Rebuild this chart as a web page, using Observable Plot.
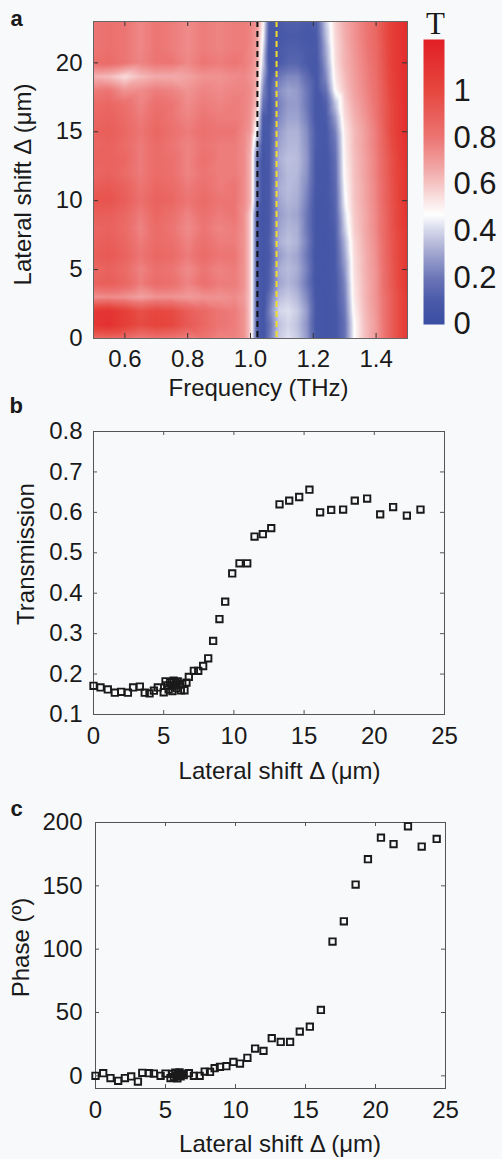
<!DOCTYPE html>
<html><head><meta charset="utf-8">
<script src="https://cdn.jsdelivr.net/npm/d3@7"></script>
<script src="https://cdn.jsdelivr.net/npm/@observablehq/plot@0.6"></script>
<style>
html,body{margin:0;padding:0;background:#f8f9fb;}
#page{position:relative;width:502px;height:1159px;overflow:hidden;}
#page > div{position:absolute;}
</style></head><body><div id="page">
<div id="pa" style="left:0;top:0"></div>
<div id="cb" style="left:415px;top:0"></div>
<div id="pb" style="left:0;top:380px"></div>
<div id="pc" style="left:0;top:790px"></div>
</div>
<script>
// ---------- Panel a: transmission map T(frequency, lateral shift) ----------
const freqs = [0.50,0.55,0.60,0.65,0.70,0.75,0.80,0.85,0.90,0.95,0.98,1.00,1.02,1.04,1.06,1.09,1.12,1.15,1.18,1.21,1.24,1.27,1.30,1.33,1.36,1.40,1.45,1.50];
const shifts = [0,1,2,3,4,5,6,7,8,9,10,11,12,13,14,15,16,17,18,19,20,21,22,23];
const transmissionMap = [
 [0.85,0.86,0.84,0.78,0.82,0.80,0.76,0.80,0.76,0.76, 0.72,0.58,0.12,0.06, 0.20,0.38,0.42,0.38,0.28,0.08, 0.06,0.08,0.18,0.47,0.60,0.70,0.90,1.08],
 [1.10,1.12,1.05,0.98,1.02,1.00,0.92,0.86,0.80,0.78, 0.72,0.58,0.12,0.06, 0.18,0.36,0.40,0.36,0.26,0.07, 0.06,0.08,0.18,0.47,0.60,0.70,0.90,1.08],
 [1.08,1.10,1.04,0.96,1.00,0.98,0.90,0.85,0.80,0.78, 0.72,0.58,0.12,0.06, 0.22,0.40,0.42,0.38,0.28,0.08, 0.06,0.08,0.20,0.50,0.61,0.71,0.90,1.08],
 [0.72,0.74,0.72,0.68,0.72,0.72,0.70,0.72,0.72,0.74, 0.70,0.58,0.12,0.06, 0.18,0.35,0.38,0.34,0.24,0.07, 0.06,0.09,0.22,0.52,0.62,0.72,0.90,1.08],
 [0.88,0.90,0.86,0.78,0.84,0.82,0.76,0.82,0.78,0.78, 0.72,0.58,0.12,0.06, 0.12,0.30,0.34,0.30,0.20,0.06, 0.06,0.09,0.24,0.53,0.62,0.72,0.92,1.10],
 [0.86,0.88,0.84,0.76,0.82,0.80,0.74,0.80,0.76,0.78, 0.72,0.58,0.12,0.06, 0.12,0.32,0.35,0.32,0.22,0.07, 0.06,0.10,0.27,0.54,0.63,0.72,0.92,1.10],
 [0.90,0.92,0.88,0.80,0.86,0.84,0.78,0.84,0.80,0.80, 0.72,0.58,0.12,0.06, 0.10,0.28,0.33,0.30,0.20,0.06, 0.06,0.10,0.30,0.55,0.63,0.73,0.93,1.10],
 [0.88,0.90,0.86,0.78,0.84,0.82,0.76,0.82,0.78,0.78, 0.72,0.58,0.12,0.06, 0.12,0.32,0.36,0.33,0.22,0.07, 0.06,0.11,0.33,0.56,0.64,0.74,0.93,1.10],
 [0.86,0.88,0.84,0.76,0.84,0.80,0.74,0.80,0.76,0.78, 0.72,0.58,0.12,0.06, 0.10,0.30,0.34,0.32,0.20,0.06, 0.06,0.12,0.38,0.58,0.65,0.75,0.94,1.10],
 [0.90,0.90,0.86,0.78,0.86,0.82,0.76,0.82,0.78,0.80, 0.72,0.58,0.12,0.06, 0.10,0.28,0.32,0.30,0.20,0.06, 0.07,0.13,0.41,0.59,0.65,0.75,0.94,1.12],
 [0.94,0.94,0.90,0.82,0.88,0.86,0.80,0.84,0.80,0.80, 0.74,0.64,0.20,0.06, 0.10,0.30,0.34,0.32,0.22,0.07, 0.07,0.14,0.45,0.60,0.66,0.76,0.95,1.12],
 [0.90,0.92,0.88,0.80,0.86,0.84,0.78,0.82,0.78,0.80, 0.74,0.64,0.20,0.06, 0.10,0.32,0.35,0.33,0.24,0.08, 0.07,0.15,0.47,0.60,0.66,0.76,0.95,1.12],
 [0.86,0.88,0.84,0.78,0.84,0.82,0.76,0.80,0.78,0.78, 0.74,0.64,0.20,0.06, 0.10,0.30,0.35,0.34,0.26,0.08, 0.07,0.16,0.49,0.61,0.67,0.77,0.96,1.12],
 [0.88,0.88,0.86,0.78,0.84,0.82,0.76,0.82,0.78,0.78, 0.74,0.64,0.20,0.06, 0.10,0.32,0.36,0.35,0.27,0.09, 0.07,0.17,0.50,0.61,0.67,0.77,0.96,1.13],
 [0.86,0.88,0.84,0.78,0.84,0.80,0.76,0.80,0.78,0.78, 0.74,0.66,0.30,0.07, 0.10,0.30,0.34,0.34,0.26,0.10, 0.08,0.19,0.51,0.62,0.68,0.78,0.98,1.14],
 [0.88,0.90,0.86,0.80,0.86,0.82,0.78,0.82,0.80,0.80, 0.75,0.70,0.45,0.08, 0.10,0.28,0.33,0.33,0.25,0.10, 0.08,0.22,0.52,0.62,0.68,0.78,1.00,1.15],
 [0.86,0.88,0.84,0.78,0.84,0.80,0.76,0.80,0.78,0.78, 0.76,0.72,0.55,0.10, 0.08,0.24,0.30,0.30,0.22,0.08, 0.10,0.28,0.55,0.64,0.70,0.80,1.00,1.15],
 [0.84,0.86,0.82,0.76,0.82,0.80,0.74,0.78,0.76,0.78, 0.76,0.73,0.62,0.18, 0.08,0.22,0.28,0.28,0.20,0.08, 0.12,0.36,0.57,0.66,0.72,0.81,1.00,1.15],
 [0.78,0.80,0.72,0.74,0.78,0.76,0.72,0.76,0.74,0.76, 0.76,0.74,0.65,0.25, 0.10,0.25,0.30,0.28,0.20,0.08, 0.18,0.48,0.60,0.68,0.74,0.82,1.02,1.15],
 [0.64,0.62,0.55,0.62,0.66,0.66,0.68,0.72,0.72,0.74, 0.75,0.72,0.66,0.32, 0.08,0.20,0.24,0.24,0.16,0.08, 0.24,0.52,0.62,0.69,0.75,0.83,1.03,1.15],
 [0.82,0.84,0.80,0.76,0.80,0.80,0.75,0.80,0.78,0.80, 0.78,0.75,0.68,0.38, 0.06,0.10,0.14,0.14,0.10,0.08, 0.28,0.54,0.64,0.70,0.76,0.84,1.04,1.15],
 [0.80,0.82,0.80,0.75,0.80,0.78,0.74,0.78,0.76,0.78, 0.78,0.75,0.70,0.42, 0.06,0.10,0.12,0.12,0.10,0.09, 0.31,0.55,0.64,0.71,0.77,0.85,1.04,1.15],
 [0.80,0.82,0.80,0.75,0.80,0.78,0.74,0.78,0.76,0.78, 0.78,0.76,0.70,0.47, 0.08,0.08,0.10,0.10,0.08,0.10, 0.35,0.56,0.65,0.72,0.78,0.86,1.05,1.15],
 [0.80,0.82,0.80,0.75,0.80,0.78,0.74,0.78,0.76,0.78, 0.78,0.76,0.72,0.50, 0.10,0.10,0.12,0.12,0.10,0.12, 0.38,0.57,0.66,0.72,0.78,0.86,1.05,1.15]
];
const blackLineFreq = [1.022];
const yellowLineFreq = [1.083];
const freqTicks = [0.6, 0.8, 1.0, 1.2, 1.4];
const shiftTicksA = [0, 5, 10, 15, 20];

// colour bar
const colorLimits = [0, 1.22];
const colorStops = [0, 0.1, 0.2, 0.3, 0.4, 0.47, 0.55, 0.65, 0.8, 1.0, 1.22];
const colorRamp = ["#3b4ea3", "#4a5aa9", "#6c77b8", "#9ea4cf", "#d3d5e9", "#ffffff", "#f9dcdc", "#f3aeae", "#ec7573", "#e6473f", "#e21f26"];
const colorTicks = [0, 0.2, 0.4, 0.6, 0.8, 1];

// ---------- Panel b: transmission vs lateral shift ----------
const shiftB = [0.00,0.50,1.02,1.52,1.97,2.45,2.82,3.30,3.65,3.99,4.30,4.58,5.00,5.13,5.25,5.35,5.45,5.55,5.62,5.70,5.78,5.85,5.92,6.00,6.10,6.22,6.32,6.48,6.62,6.79,7.15,7.46,7.81,8.17,8.52,8.97,9.38,9.88,10.40,10.95,11.47,12.06,12.66,13.25,13.94,14.65,15.38,16.14,16.93,17.78,18.61,19.49,20.42,21.34,22.32,23.29];
const transB = [0.171,0.167,0.162,0.154,0.156,0.154,0.167,0.169,0.154,0.152,0.159,0.167,0.155,0.182,0.172,0.162,0.180,0.170,0.158,0.184,0.172,0.178,0.165,0.182,0.174,0.160,0.176,0.160,0.179,0.193,0.208,0.208,0.220,0.239,0.282,0.336,0.379,0.449,0.474,0.474,0.540,0.546,0.561,0.620,0.629,0.638,0.656,0.600,0.606,0.607,0.629,0.634,0.595,0.613,0.592,0.607];
const shiftTicks = [0, 5, 10, 15, 20, 25];
const transTicks = [0.1, 0.2, 0.3, 0.4, 0.5, 0.6, 0.7, 0.8];

// ---------- Panel c: phase vs lateral shift ----------
const shiftC = [0.00,0.55,1.07,1.62,2.10,2.55,3.03,3.34,3.82,4.17,4.65,5.00,5.36,5.50,5.60,5.70,5.78,5.85,5.92,6.00,6.08,6.15,6.30,6.67,7.03,7.44,7.80,8.18,8.51,8.89,9.35,9.85,10.32,10.85,11.40,12.00,12.59,13.23,13.90,14.59,15.31,16.10,16.93,17.74,18.58,19.46,20.39,21.29,22.32,23.30,24.37];
const phaseC = [0,2.1,-1.8,-3.9,-1.8,-0.5,-4.5,2.4,2.1,1.8,0,1.8,-1.8,1.5,-1,2.5,0,-2,1,2.8,-0.5,1.5,0.5,2.1,0,0,3.4,3.1,6.0,7.1,7.6,11.0,9.7,14.2,21.5,19.7,29.7,26.8,26.8,34.9,38.8,52,106,122,151,171,188,183,197,181,187];
const phaseTicks = [0, 50, 100, 150, 200];

// ---------- helpers ----------
const FONT = "'Liberation Sans', Arial, Helvetica, sans-serif";
const INK = "#1a1a1a";
const BOX = "#555";
function boxTicks(xt, yt, fw, fh, len, stroke) {
  return [
    Plot.tickX(xt, {x: d => d, insetTop: fh - len, stroke}),
    Plot.tickX(xt, {x: d => d, insetBottom: fh - len, stroke}),
    Plot.tickY(yt, {y: d => d, insetRight: fw - len, stroke}),
    Plot.tickY(yt, {y: d => d, insetLeft: fw - len, stroke})
  ];
}
function baseStyle(size) {
  return {fontFamily: FONT, fontSize: size + "px", color: INK, background: "transparent", overflow: "visible"};
}

// ---------- Panel a ----------
{
  const W = 420, H = 400, mL = 93, mR = 13, mT = 21, mB = 62;
  const fw = W - mL - mR, fh = H - mT - mB;
  const cells = shifts.flatMap((s, i) => freqs.map((f, j) => ({f, s, t: transmissionMap[i][j]})));
  const svg = Plot.plot({
    width: W, height: H, marginLeft: mL, marginRight: mR, marginTop: mT, marginBottom: mB,
    style: baseStyle(24),
    x: {domain: [0.5, 1.5]},
    y: {domain: [0, 23]},
    color: {type: "linear", domain: colorStops, range: colorRamp, clamp: true},
    marks: [
      Plot.raster(cells, {x: "f", y: "s", fill: "t", interpolate: "barycentric"}),
      Plot.ruleX(blackLineFreq, {x: d => d, stroke: "#111", strokeWidth: 2, strokeDasharray: "6,4"}),
      Plot.ruleX(yellowLineFreq, {x: d => d, stroke: "#f2dc2c", strokeWidth: 2, strokeDasharray: "6,4"}),
      ...boxTicks(freqTicks, shiftTicksA, fw, fh, 5, "#333"),
      Plot.frame({stroke: "#666"}),
      Plot.axisX(freqTicks, {tickSize: 0, tickPadding: 11, tickFormat: d3.format(".1f"), label: null}),
      Plot.axisY(shiftTicksA, {tickSize: 0, tickPadding: 11, label: null}),
      Plot.text(["Frequency (THz)"], {frameAnchor: "bottom", dx: 8, dy: 57, lineAnchor: "bottom", textAnchor: "middle"}),
      Plot.text(["Lateral shift Δ (μm)"], {frameAnchor: "left", rotate: -90, dx: -63, dy: 4.5, lineAnchor: "bottom", textAnchor: "middle"}),
      Plot.text(["a"], {frameAnchor: "top-left", dx: -83, dy: 4, lineAnchor: "bottom", textAnchor: "start", fontWeight: "bold", fontSize: 22})
    ]
  });
  document.getElementById("pa").appendChild(svg);
}

// ---------- Colour bar ----------
{
  const W = 87, H = 340, mL = 8, mR = 58, mT = 39, mB = 16;
  const svg = Plot.plot({
    width: W, height: H, marginLeft: mL, marginRight: mR, marginTop: mT, marginBottom: mB,
    style: baseStyle(31),
    x: {domain: [0, 1], axis: null},
    y: {domain: colorLimits},
    color: {type: "linear", domain: colorStops, range: colorRamp, clamp: true},
    marks: [
      Plot.raster({fill: (x, y) => y, x1: 0, x2: 1, y1: colorLimits[0], y2: colorLimits[1], pixelSize: 1}),
      Plot.axisY(colorTicks, {anchor: "right", tickSize: 0, tickPadding: 9, tickFormat: d => String(d), label: null}),
      Plot.text(["T"], {frameAnchor: "top", dx: 1.5, dy: -6, lineAnchor: "bottom", textAnchor: "middle", fontFamily: "'Liberation Serif', 'Times New Roman', serif", fontSize: 31})
    ]
  });
  document.getElementById("cb").appendChild(svg);
}

// ---------- Panel b ----------
{
  const W = 502, H = 420, mL = 93, mR = 58, mT = 51, mB = 86;
  const fw = W - mL - mR, fh = H - mT - mB;
  const pts = shiftB.map((x, i) => ({x, y: transB[i]}));
  const svg = Plot.plot({
    width: W, height: H, marginLeft: mL, marginRight: mR, marginTop: mT, marginBottom: mB,
    style: baseStyle(24),
    x: {domain: [0, 25]},
    y: {domain: [0.1, 0.8]},
    marks: [
      ...boxTicks(shiftTicks, transTicks, fw, fh, 4, BOX),
      Plot.frame({stroke: BOX}),
      Plot.dot(pts, {x: "x", y: "y", symbol: "square", r: 3.6, stroke: "#1a1a1a", strokeWidth: 1.9, fill: "none"}),
      Plot.axisX(shiftTicks, {tickSize: 0, tickPadding: 12, label: null}),
      Plot.axisY(transTicks, {tickSize: 0, tickPadding: 11, tickFormat: d3.format(".1f"), label: null}),
      Plot.text(["Lateral shift Δ (μm)"], {frameAnchor: "bottom", dx: 10.5, dy: 64, lineAnchor: "bottom", textAnchor: "middle"}),
      Plot.text(["Transmission"], {frameAnchor: "left", rotate: -90, dx: -60, dy: -19, lineAnchor: "bottom", textAnchor: "middle"}),
      Plot.text(["b"], {frameAnchor: "top-left", dx: -84, dy: -19, lineAnchor: "bottom", textAnchor: "start", fontWeight: "bold", fontSize: 22})
    ]
  });
  document.getElementById("pb").appendChild(svg);
}

// ---------- Panel c ----------
{
  const W = 502, H = 369, mL = 95, mR = 57, mT = 32, mB = 71;
  const fw = W - mL - mR, fh = H - mT - mB;
  const pts = shiftC.map((x, i) => ({x, y: phaseC[i]}));
  const svg = Plot.plot({
    width: W, height: H, marginLeft: mL, marginRight: mR, marginTop: mT, marginBottom: mB,
    style: baseStyle(24),
    x: {domain: [0, 25]},
    y: {domain: [-10, 200]},
    marks: [
      ...boxTicks(shiftTicks, phaseTicks, fw, fh, 4, BOX),
      Plot.frame({stroke: BOX}),
      Plot.dot(pts, {x: "x", y: "y", symbol: "square", r: 3.6, stroke: "#1a1a1a", strokeWidth: 1.9, fill: "none"}),
      Plot.axisX(shiftTicks, {tickSize: 0, tickPadding: 12, label: null}),
      Plot.axisY(phaseTicks, {tickSize: 0, tickPadding: 13, label: null}),
      Plot.text(["Lateral shift Δ (μm)"], {frameAnchor: "bottom", dx: 9.5, dy: 63, lineAnchor: "bottom", textAnchor: "middle"}),
      Plot.text(["Phase (º)"], {frameAnchor: "left", rotate: -90, dx: -67, dy: -8, lineAnchor: "bottom", textAnchor: "middle"}),
      Plot.text(["c"], {frameAnchor: "top-left", dx: -85, dy: -7, lineAnchor: "bottom", textAnchor: "start", fontWeight: "bold", fontSize: 22})
    ]
  });
  document.getElementById("pc").appendChild(svg);
}
</script></body></html>
